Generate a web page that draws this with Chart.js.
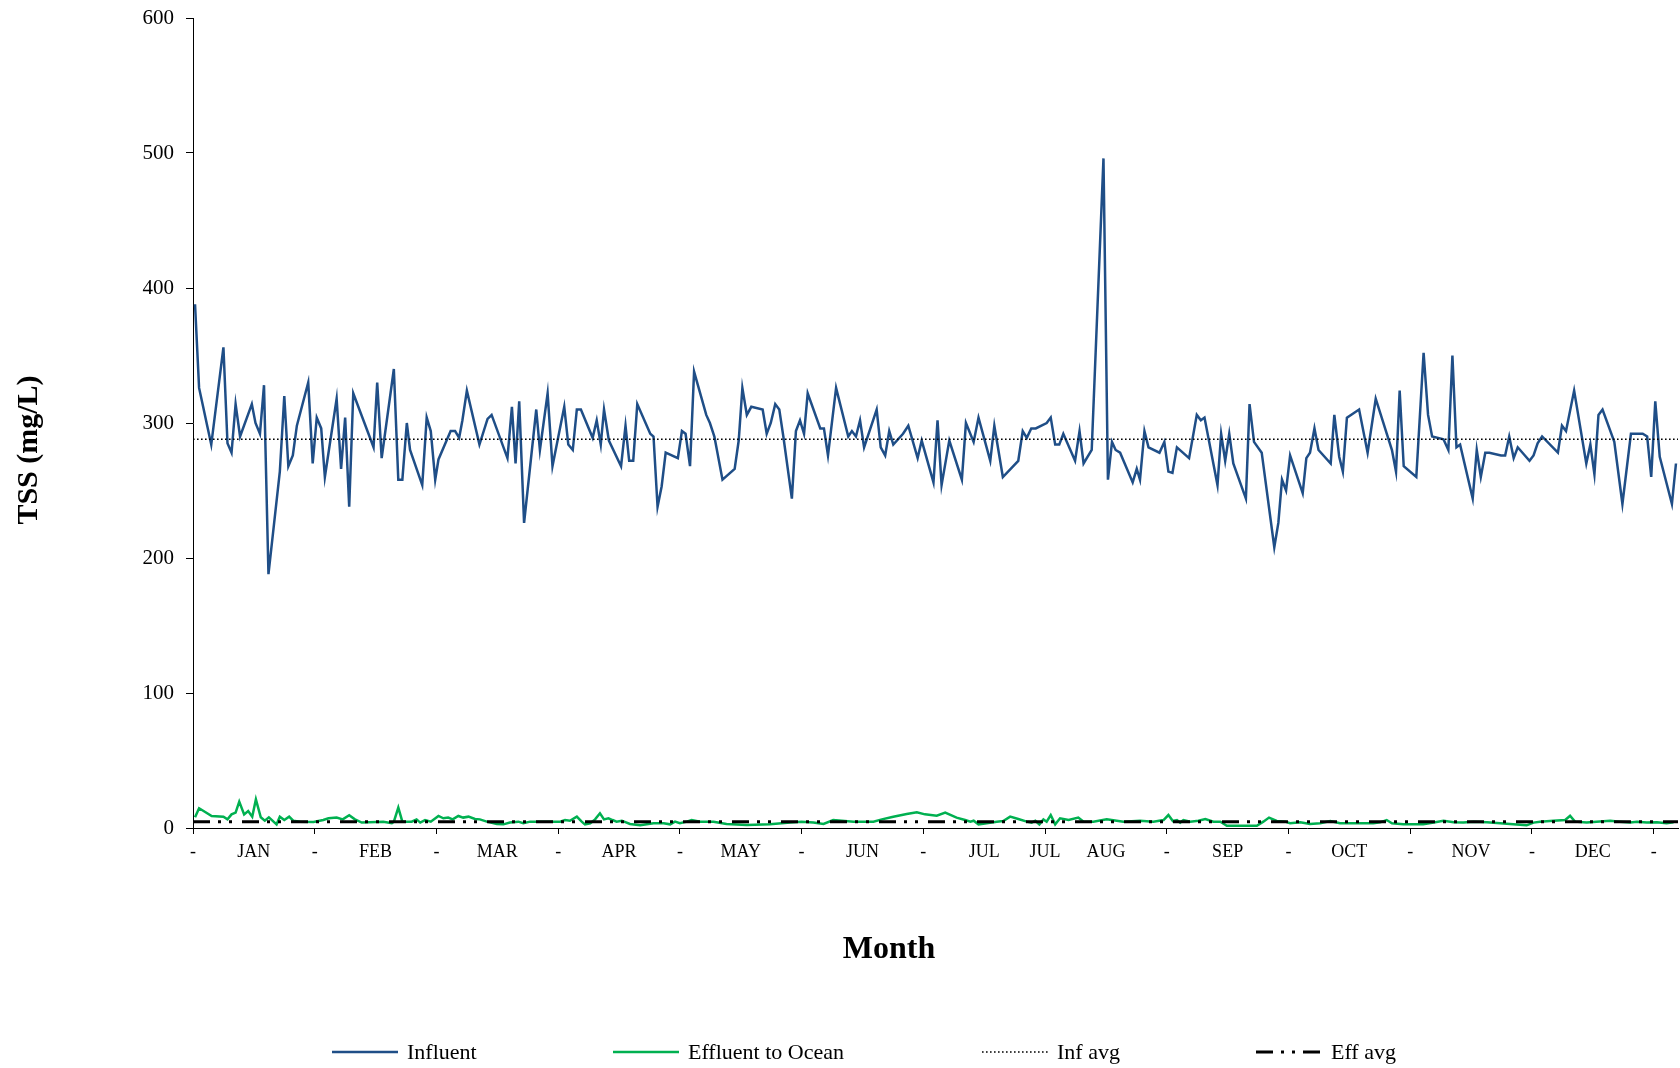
<!DOCTYPE html>
<html>
<head>
<meta charset="utf-8">
<script src="https://cdn.jsdelivr.net/npm/chart.js@4.4.1/dist/chart.umd.min.js"></script>
<style>
  html, body { margin: 0; padding: 0; background: #fff; }
  #wrap { width: 1680px; height: 1068px; }
</style>
</head>
<body>
<div id="wrap"><canvas id="tssChart"></canvas></div>
<script>
// day of year (x) and TSS (mg/L)
var infDay = [0.5,1.5,2.5,3.5,4.5,7.5,8.5,9.5,10.5,11.6,14.5,15.4,16.5,17.5,18.6,21.4,22.5,23.5,24.6,25.6,28.4,29.5,30.5,31.6,32.5,35.4,36.5,37.5,38.5,39.5,44.5,45.4,46.5,49.5,50.6,51.6,52.7,53.5,56.5,57.6,58.6,59.7,
  60.5,63.5,64.6,65.6,66.4,67.5,70.6,72.6,73.6,77.5,78.6,79.5,80.4,81.6,84.6,85.5,87.4,88.6,91.5,92.5,93.6,94.6,95.6,98.5,99.5,100.5,101.3,102.5,105.5,106.6,107.5,108.5,109.5,112.7,113.5,114.5,115.5,116.5,
  119.5,120.5,121.4,122.5,123.5,126.5,127.4,128.5,130.5,133.5,134.5,135.4,136.5,137.6,140.4,141.4,142.4,143.5,144.5,145.5,147.6,148.6,149.6,150.6,151.5,154.6,155.5,156.5,158.5,161.5,162.4,163.4,164.4,165.4,168.5,169.5,170.6,171.6,172.6,175,176.3,178.6,
  179.6,182.5,183.5,184.5,186.4,189.5,190.5,192.4,193.6,196.5,197.5,199.6,203.4,204.5,205.5,206.6,207.7,210.4,211.4,212.5,213.5,214.5,217.4,218.5,219.5,221.5,224.4,225.5,226.5,227.4,228.5,231.6,232.6,233.4,234.5,235.5,
  238.2,239.4,240.4,241.4,242.5,245.5,247.4,248.4,249.3,252.5,253.4,254.4,255.4,256.4,259.5,260.4,261.5,263.4,266.5,267.5,268.4,269.4,270.4,273.5,274.4,275.3,276.4,277.4,280.4,281.3,282.5,283.4,284.4,287.4,289.5,291.5,295.5,296.5,297.4,
  298.4,301.5,303.3,304.4,305.4,308.2,309.4,310.4,311.4,312.3,315.4,316.4,317.4,318.5,319.5,322.4,323.4,324.4,325.5,326.5,329.4,330.4,331.4,332.5,336.4,337.4,338.4,340.4,343.4,344.4,345.4,346.4,347.4,350.3,352.3,354.4,357.3,358.4,359.4,360.4,361.5,364.5,365.5];
var infTSS = [388,326,312,298,284,356,285,278,314,290,314,300,292,328,188,264,320,268,276,298,330,270,304,296,260,318,266,304,238,322,282,330,274,340,258,258,300,280,254,304,294,258,
  273,294,294,289,302,324,284,303,306,274,312,270,316,226,310,280,322,268,312,284,280,310,310,289,302,284,310,287,268,298,272,272,314,292,290,238,253,278,
  274,294,292,268,338,306,300,290,258,266,287,326,306,312,310,292,300,314,310,290,244,294,302,292,322,296,296,276,326,290,294,290,302,282,310,282,276,294,284,292,298,274,
  287,256,302,254,287,258,300,286,304,272,298,260,272,294,289,296,296,300,304,284,284,292,272,294,270,280,496,258,286,280,278,256,266,258,294,282,
  278,286,264,263,282,274,306,302,304,254,292,272,292,270,244,314,286,278,208,226,258,250,276,248,274,278,296,280,270,306,275,264,304,310,278,318,280,264,324,
  268,260,352,306,290,288,280,350,282,284,244,280,260,278,278,276,276,290,274,282,272,276,285,290,278,298,294,324,270,284,262,306,310,286,240,292,292,290,260,316,275,240,270];

var effDay = [0.5,1.5,2.5,4.6,7.5,8.5,9.5,10.5,11.4,12.6,13.6,14.6,15.5,16.7,17.7,18.7,20.6,21.4,22.5,23.7,24.7,26.4,29.7,32.1,33.4,35.4,36.9,38.5,39.9,41.6,46.9,49,49.5,50.6,51.6,53.9,55.1,56,57.2,58.6,
  60.5,61.7,62.9,64,65.4,66.6,67.9,69.5,70.7,72.4,74.9,76.5,78.1,80.2,81.4,83.1,88,90.5,91.7,92.9,94.6,95.8,96.6,97.9,99.1,100.3,101.3,102.4,103.4,104.4,105.7,107.7,110.2,113.5,116,117.6,118.8,120,
  121.7,122.9,125,128.3,131.5,136.5,142.2,147.2,150,152.9,155.4,157.8,162.8,167.7,169.8,172.6,175.9,178.4,180.4,183.3,185.4,188.2,190.3,191.6,192.4,193.6,195.6,198.1,199.7,201.4,203.4,205.5,206.7,207.6,208.6,209.6,210.4,211.4,212.5,213.7,215.8,218.2,219.5,221.9,225.2,229.3,233.4,236.7,239.2,240.4,241.5,242.5,243.3,
  244.1,245.8,247.8,249.5,251.5,253.2,254.8,262.2,263.8,265.2,267.1,269.2,270.4,272.9,275.3,277.8,280.3,282.7,286.8,290.9,292.6,294.2,295.5,298.3,303.2,305.8,308.2,310.7,313.1,315.6,318.9,322.2,325.4,328.7,330.4,332,335.3,338.2,339.4,340.6,343.5,345.9,349.3,351.7,354.2,355.9,358.3,360.8,363.2,364.9];
var effTSS = [7.9,14.6,12.8,8.9,8.4,6.4,10.1,11.4,19.5,10.1,12.6,8.4,21.2,7.9,5.4,7.9,2.7,8.4,5.9,8.4,5.4,4.7,4.4,5.9,7.2,7.7,6.4,9.4,6.4,4.0,4.7,3.5,4.7,15.1,4.7,4.7,6.4,4.0,5.9,4.7,
  8.9,7.2,7.7,6.4,8.9,7.7,8.4,6.7,6.4,4.7,3.0,2.7,4.0,4.7,3.5,4.7,4.7,4.7,5.9,5.4,8.4,4.7,2.7,3.5,6.4,10.9,6.4,7.2,5.9,4.7,5.4,3.0,2.0,3.5,3.5,2.7,4.7,3.5,
  4.7,5.9,4.7,4.7,3.0,2.2,2.7,4.0,4.7,4.0,3.0,5.9,4.7,4.7,6.4,8.4,10.4,11.6,10.1,9.1,11.4,7.7,5.9,4.7,5.4,2.7,3.5,4.7,5.2,8.4,6.7,4.7,4.0,5.4,2.7,6.4,4.7,9.6,2.7,7.2,5.9,7.7,4.7,4.7,6.4,4.7,5.4,4.7,5.9,9.6,5.2,5.9,4.0,
  5.9,4.7,5.4,6.7,4.7,4.7,1.7,1.7,4.7,7.7,5.2,4.7,3.5,4.2,3.0,3.5,5.2,3.5,3.5,3.5,4.2,5.9,3.5,2.7,2.7,4.0,5.4,4.2,4.0,4.7,4.2,3.5,2.7,2.0,4.0,4.7,5.4,5.9,9.1,4.7,4.0,4.7,5.4,4.7,4.0,4.7,4.0,4.2,3.5,4.2];

var infAvg = 288;
var effAvg = 4.7;

var tickDays = [0,15,30,45,60,75,90,105,120,135,150,165,180,195,210,225,240,255,270,285,300,315,330,345,360];
var tickLabels = ['-','JAN','-','FEB','-','MAR','-','APR','-','MAY','-','JUN','-','JUL','JUL','AUG','-','SEP','-','OCT','-','NOV','-','DEC','-'];
var dayMin = 0, dayMax = 366;

var serif = "'Liberation Serif', 'Times New Roman', serif";

function toPoints(xs, ys) {
  return xs.map(function(x, i) { return {x: x, y: ys[i]}; });
}

var legendItems = [
  {text: 'Influent', color: '#1F4E87', width: 2.5, dash: [], x: 332},
  {text: 'Effluent to Ocean', color: '#00B050', width: 2.5, dash: [], x: 613},
  {text: 'Inf avg', color: '#000', width: 1.6, dash: [1.6, 2.4], x: 982},
  {text: 'Eff avg', color: '#000', width: 3, dash: [17, 8, 3, 8, 3, 8], x: 1256}
];

// axis titles and legend, placed where the original has them
var extraText = {
  id: 'extraText',
  afterDraw: function(chart) {
    var c = chart.ctx;
    c.save();
    c.fillStyle = '#000';
    c.textAlign = 'center';
    c.textBaseline = 'middle';

    c.font = 'bold 32px ' + serif;
    c.fillText('Month', 889, 950);

    c.save();
    c.translate(29, 450);
    c.rotate(-Math.PI / 2);
    c.font = 'bold 30px ' + serif;
    c.fillText('TSS (mg/L)', 0, 0);
    c.restore();

    c.font = '22px ' + serif;
    c.textAlign = 'left';
    legendItems.forEach(function(it) {
      c.beginPath();
      c.strokeStyle = it.color;
      c.lineWidth = it.width;
      c.setLineDash(it.dash);
      c.moveTo(it.x, 1052);
      c.lineTo(it.x + 66, 1052);
      c.stroke();
      c.setLineDash([]);
      c.fillText(it.text, it.x + 75, 1053);
    });
    c.restore();
  }
};

var chart = new Chart(document.getElementById('tssChart'), {
  type: 'line',
  data: {
    datasets: [{
      label: 'Influent',
      data: toPoints(infDay, infTSS),
      borderColor: '#1F4E87',
      borderWidth: 2.5,
      pointRadius: 0,
      order: 4
    }, {
      label: 'Effluent to Ocean',
      data: toPoints(effDay, effTSS),
      borderColor: '#00B050',
      borderWidth: 2.5,
      pointRadius: 0,
      order: 3
    }, {
      label: 'Inf avg',
      data: [{x: dayMin, y: infAvg}, {x: dayMax, y: infAvg}],
      borderColor: '#000',
      borderWidth: 1.6,
      borderDash: [1.6, 2.4],
      pointRadius: 0,
      order: 2
    }, {
      label: 'Eff avg',
      data: [{x: dayMin, y: effAvg}, {x: dayMax, y: effAvg}],
      borderColor: '#000',
      borderWidth: 3,
      borderDash: [17, 8, 3, 8, 3, 10],
      pointRadius: 0,
      order: 1
    }]
  },
  options: {
    responsive: true,
    maintainAspectRatio: false,
    animation: false,
    layout: { padding: { top: 18, right: 2, left: 0, bottom: 0 } },
    elements: { line: { tension: 0 } },
    plugins: {
      legend: { display: false },
      tooltip: { enabled: false }
    },
    scales: {
      x: {
        type: 'linear',
        min: dayMin,
        max: dayMax,
        afterBuildTicks: function(scale) {
          scale.ticks = tickDays.map(function(v) { return {value: v}; });
        },
        afterFit: function(scale) { scale.height = 240; },
        ticks: {
          autoSkip: false,
          maxRotation: 0,
          padding: 7,
          color: '#000',
          font: { family: serif, size: 18 },
          callback: function(v, i) { return tickLabels[i]; }
        },
        grid: {
          drawOnChartArea: false,
          tickLength: 6,
          color: function(ctx) { return ctx.index % 2 === 0 ? '#000' : 'rgba(0,0,0,0)'; }
        },
        border: { color: '#000', width: 1 }
      },
      y: {
        min: 0,
        max: 600,
        afterFit: function(scale) {
          scale.width = 193;
          scale.paddingTop = 0;
          scale.paddingBottom = 0;
        },
        ticks: {
          stepSize: 100,
          padding: 12,
          color: '#000',
          font: { family: serif, size: 21 }
        },
        grid: {
          drawOnChartArea: false,
          tickLength: 7,
          color: '#000'
        },
        border: { color: '#000', width: 1 }
      }
    }
  },
  plugins: [extraText]
});
</script>
</body>
</html>
